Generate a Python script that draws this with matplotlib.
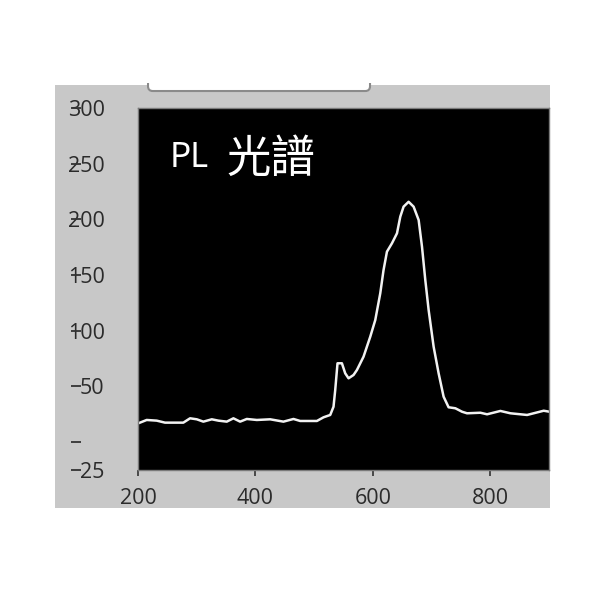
import matplotlib.pyplot as plt
import numpy as np
from matplotlib.patches import Rectangle, FancyBboxPatch

# PL spectrum, values
wavelength = np.array([200.5, 214.8, 231.9, 246.0, 277.2, 288.7, 300.1, 311.3, 325.7, 336.9,
                       351.2, 362.5, 373.9, 385.3, 402.4, 425.1, 447.7, 464.8, 476.2, 504.7,
                       516.0, 527.4, 533.0, 535.9, 539.8, 547.3, 552.9, 558.6, 567.1, 572.9,
                       584.1, 595.6, 604.1, 612.6, 618.2, 624.0, 632.5, 641.1, 646.7, 652.3,
                       660.9, 669.4, 678.0, 683.7, 689.3, 695.0, 703.5, 712.0, 720.5, 729.0,
                       740.5, 751.9, 760.4, 783.1, 794.5, 817.2, 834.3, 862.7, 891.0, 900.8])
intensity = np.array([16.9, 19.9, 19.3, 17.5, 17.5, 21.4, 20.5, 18.4, 20.5, 19.3,
                      18.4, 21.4, 18.4, 20.8, 19.9, 20.5, 18.4, 20.8, 19.0, 19.0,
                      22.3, 24.4, 31.8, 46.8, 70.8, 70.8, 61.8, 57.3, 60.3, 64.8,
                      76.7, 94.7, 109.6, 133.6, 154.5, 171.0, 178.5, 187.5, 202.4, 211.4,
                      215.8, 211.4, 199.4, 175.4, 145.6, 118.6, 85.7, 61.8, 40.8, 31.3,
                      30.4, 27.3, 25.9, 26.4, 25.0, 28.0, 25.9, 24.4, 28.2, 27.3])

xticks = [200, 400, 600, 800]
yticks = [300, 250, 200, 150, 100, 50, 0, -25]
ylabels = ['300', '250', '200', '150', '100', '50', '', '25']

fig = plt.figure(figsize=(6, 6), dpi=100)
fig.patch.set_facecolor('white')

# grey LabVIEW-like panel + the bottom of a tab sticking into it
fig.patches.append(Rectangle((0.0917, 0.1533), 0.825, 0.705, transform=fig.transFigure,
                             facecolor='#c8c8c8', edgecolor='none', zorder=-3))
fig.patches.append(FancyBboxPatch((0.2467, 0.8483), 0.37, 0.04, transform=fig.transFigure,
                                  boxstyle='round,pad=0,rounding_size=0.008',
                                  facecolor='white', edgecolor='#8a8a8a', lw=1.5, zorder=-2))
fig.patches.append(Rectangle((0.2, 0.8617), 0.5, 0.1, transform=fig.transFigure,
                             facecolor='white', edgecolor='none', zorder=-1))

ax = fig.add_axes([0.23, 0.2167, 0.685, 0.6033])
ax.set_facecolor('black')
ax.plot(wavelength, intensity, color='#f2f2f2', lw=1.8)
ax.set_xlim(200, 900)
ax.set_ylim(-25, 300)

for s in ax.spines.values():
    s.set_color('#7a7a7a')
    s.set_linewidth(1)

ax.set_xticks(xticks)
ax.set_xticklabels([str(t) for t in xticks])
ax.tick_params(axis='x', length=4, width=1.2, color='#333333', pad=9,
               labelsize=15.5, labelcolor='#2b2b2b')
ax.set_yticks(yticks)
ax.set_yticklabels(ylabels)
ax.tick_params(axis='y', length=0, pad=24, labelsize=15.5, labelcolor='#2b2b2b')
for lab in ax.get_xticklabels() + ax.get_yticklabels():
    lab.set_fontfamily('Open Sans')

# small tick dashes that sit over the y labels
ax.hlines(yticks, -0.163, -0.139, transform=ax.get_yaxis_transform(),
          clip_on=False, color='#333333', lw=1.3)

ax.text(0.078, 0.837, 'PL', transform=ax.transAxes, color='white', fontsize=24,
        ha='left', va='baseline', family=['Noto Sans CJK TC', 'DejaVu Sans'])
ax.text(0.216, 0.824, '光譜', transform=ax.transAxes, color='white', fontsize=32,
        ha='left', va='baseline', family=['Noto Sans CJK TC', 'DejaVu Sans'])

plt.savefig('out.png', dpi=100)
